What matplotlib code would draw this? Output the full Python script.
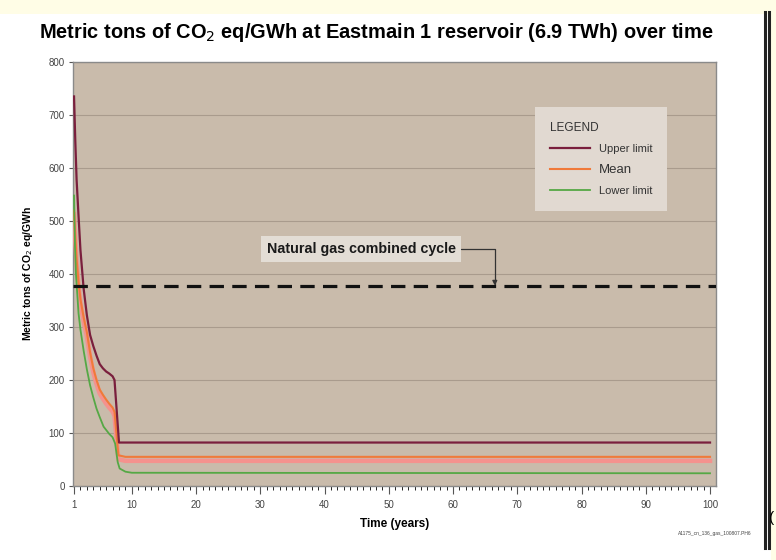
import matplotlib.pyplot as plt
import matplotlib.transforms as mtransforms
import numpy as np

plt.rcParams['font.family'] = ['Liberation Sans', 'DejaVu Sans']

# values
upper_years = [1, 1.2, 1.4, 1.7, 2.0, 2.5, 3.0, 3.5, 4.0, 4.5, 5.0, 5.5, 6.0, 6.5, 7.0, 7.3, 8.0, 100]
upper_vals = [735, 650, 578, 510, 445, 372, 322, 285, 264, 246, 230, 222, 216, 212, 207, 200, 82, 82]

mean_years = [1, 1.2, 1.4, 1.7, 2.0, 2.5, 3.0, 3.5, 4.0, 4.5, 5.0, 5.5, 6.0, 6.5, 7.0, 7.3, 7.9, 9.0, 100]
mean_vals = [520, 470, 428, 385, 352, 318, 290, 252, 222, 200, 182, 172, 163, 155, 148, 140, 58, 55, 55]

lower_years = [1, 1.15, 1.3, 1.7, 2.0, 2.5, 3.0, 3.5, 4.0, 4.5, 5.0, 5.6, 6.5, 7.0, 7.4, 7.8, 8.1, 9.0, 10, 100]
lower_vals = [548, 450, 400, 326, 295, 255, 220, 190, 167, 146, 130, 112, 98, 92, 80, 45, 33, 27, 25, 24]

gas_level = 378
xticks = [1, 10, 20, 30, 40, 50, 60, 70, 80, 90, 100]
yticks = [0, 100, 200, 300, 400, 500, 600, 700, 800]

fig = plt.figure(figsize=(7.76, 5.6), dpi=100)
fig.patch.set_facecolor('white')

# scan artefacts: yellow strip on top, double border on the right
fig.patches.append(plt.Rectangle((0, 1 - 14 / 560), 1, 14 / 560, transform=fig.transFigure,
                                 facecolor='#fffde6', edgecolor='none', zorder=0))
fig.patches.append(plt.Rectangle((771 / 776, 0), 5 / 776, 1, transform=fig.transFigure,
                                 facecolor='#fffde6', edgecolor='none', zorder=0))
for xp in (764.5, 769):
    fig.add_artist(plt.Line2D([xp / 776, xp / 776], [12 / 560, 1 - 12 / 560], transform=fig.transFigure,
                              color='#222222', lw=2.2))
fig.text(769 / 776, 1 - 518 / 560, '(', fontsize=11, va='center', ha='left')

ax = fig.add_axes([73 / 776, 1 - 486 / 560, (716 - 73) / 776, (486 - 62) / 560])
ax.set_facecolor('#c9bbab')

ax.set_xlim(0.84, 100.93)
ax.set_ylim(0, 800)
ax.set_yticks(yticks)
ax.set_xticks(xticks)
ax.set_xticks(np.arange(1, 101), minor=True)
ax.tick_params(axis='both', labelsize=7, colors='#555555', labelcolor='#444444')
ax.tick_params(axis='x', which='major', length=6, width=0.8, direction='out', pad=4)
ax.tick_params(axis='x', which='minor', length=3, width=0.6, direction='out')
ax.tick_params(axis='y', length=3, width=0.8, direction='out', pad=3)
ax.grid(axis='y', color='#a99b8d', lw=0.8)
ax.set_axisbelow(True)
for side in ax.spines:
    ax.spines[side].set_color('#8a8a8a')
    ax.spines[side].set_linewidth(1.0)

ax.plot(upper_years, upper_vals, color='#7a1f3d', lw=1.6, zorder=4, label='Upper limit')
# the mean is drawn as an orange line over a pinkish band just below it
shift = mtransforms.offset_copy(ax.transData, fig=fig, x=0, y=-4, units='dots')
ax.plot(mean_years, mean_vals, color='#f4928e', lw=3.2, zorder=3, transform=shift)
ax.plot(mean_years, mean_vals, color='#f07a3a', lw=1.5, zorder=3, label='Mean')
ax.plot(lower_years, lower_vals, color='#55a845', lw=1.3, zorder=3, label='Lower limit')

ax.axhline(gas_level, color='#111111', lw=2.3, dashes=(4.5, 2.6), zorder=5)

ax.annotate('Natural gas combined cycle', xy=(66.5, gas_level), xytext=(60.4, 447),
            fontsize=10.3, fontweight='bold', ha='right', va='center', color='#1a1a1a',
            bbox=dict(boxstyle='square,pad=0.4', facecolor='#e3ddd5', edgecolor='none'),
            arrowprops=dict(arrowstyle='-|>', color='#333333', lw=0.9, mutation_scale=7,
                            connectionstyle='angle,angleA=0,angleB=90,rad=0',
                            shrinkA=0, shrinkB=0))

leg = ax.legend(loc='upper left', bbox_to_anchor=((535 - 73) / 643, 1 - (107 - 62) / 424),
                title='LEGEND', fontsize=8, title_fontsize=8.5, frameon=True, fancybox=False,
                handlelength=3.6, borderpad=1.35, labelspacing=0.9, handletextpad=0.8,
                alignment='left', borderaxespad=0)
leg.get_frame().set_facecolor('#e1d9d1')
leg.get_frame().set_edgecolor('none')
leg.get_frame().set_alpha(1)
leg.set_zorder(6)
for t in leg.get_texts():
    t.set_color('#333333')
leg.get_texts()[1].set_fontsize(9.5)
leg.get_title().set_color('#333333')

ax.set_xlabel('Time (years)', fontsize=8.5, fontweight='bold', labelpad=6)
ax.set_ylabel('Metric tons of CO$_2$ eq/GWh', fontsize=7.5, fontweight='bold', labelpad=10)

fig.text(376 / 776, 1 - 33 / 560, 'Metric tons of CO$_2$ eq/GWh at Eastmain 1 reservoir (6.9 TWh) over time',
         ha='center', va='center', fontsize=14.45, fontweight='bold')
fig.text(752 / 776, 1 - 533 / 560, 'A1175_cn_136_gas_100807.PH6', ha='right', va='center',
         fontsize=3.5, color='#444444')

fig.savefig('out.png', dpi=100)
